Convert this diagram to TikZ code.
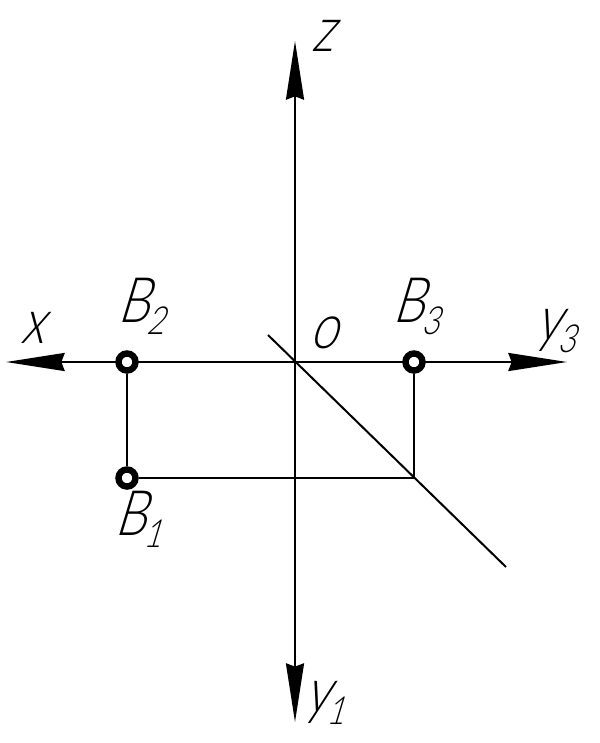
\documentclass[tikz,border=0pt]{standalone}
\usepackage{fontspec}
\usetikzlibrary{arrows.meta}
\newfontfamily\gostfont[FakeStretch=0.8,FakeSlant=0.3]{Lato Light}
\newcommand{\lbl}[2]{#1\kern-2pt\lower0.2em\hbox{\fontsize{29}{29}\selectfont #2}}
\tikzset{
  x=0.75pt,y=-0.75pt,
  axisline/.style={line width=1.6pt,-{Stealth[length=44pt,width=13.5pt,inset=2.5pt]}},
  thinline/.style={line width=1.5pt},
  pointmark/.style={circle,draw,fill=white,line width=4.8pt,minimum size=12.8pt,inner sep=0pt},
  lab/.style={inner sep=0pt,font=\gostfont\fontsize{47}{47}\selectfont,anchor=base west}
}
\begin{document}
\begin{tikzpicture}
\useasboundingbox[fill=white] (0,0) rectangle (600,743);
\coordinate (O) at (295,362);
\coordinate (zend) at (295,41);
\coordinate (yoneend) at (295,722);
\coordinate (xend) at (6,362);
\coordinate (ythreeend) at (567,362);
\coordinate (diagA) at (268,335);
\coordinate (diagB) at (506,567);
\coordinate (C) at (414,478);
\draw[axisline] (O) -- (zend);
\draw[axisline] (O) -- (yoneend);
\draw[axisline] (O) -- (xend);
\draw[axisline] (O) -- (ythreeend);
\draw[thinline] (diagA) -- (diagB);
\node[pointmark] (Btwo) at (127,362) {};
\node[pointmark] (Bthree) at (414,362) {};
\node[pointmark] (Bone) at (127,478) {};
\draw[thinline] (Btwo) -- (Bone);
\draw[thinline] (Bone) -- (C);
\draw[thinline] (Bthree) -- (C);
\node[lab] (lz) at (311,51) {z};
\node[lab] (lx) at (20,343) {x};
\node[lab] (lo) at (309,348) {o};
\node[lab] (lBtwo) at (117,322) {\lbl{B}{2}};
\node[lab] (lBthree) at (392,322) {\lbl{B}{3}};
\node[lab] (lBone) at (114,535) {\lbl{B}{1}};
\node[lab] (lythree) at (535,340) {\lbl{y}{3}};
\node[lab] (lyone) at (304,712) {\lbl{y}{1}};
\end{tikzpicture}
\end{document}
